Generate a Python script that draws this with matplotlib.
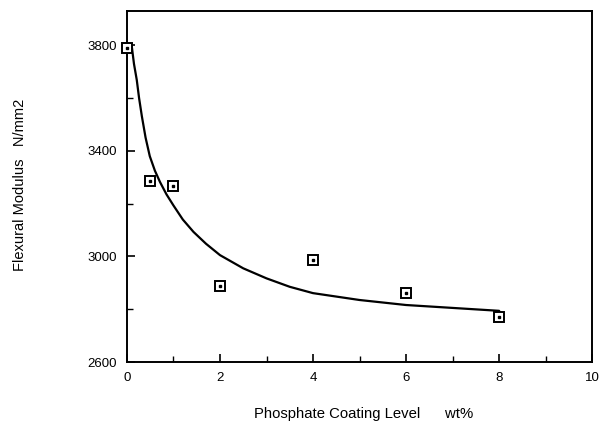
import numpy as np
import matplotlib
matplotlib.use("Agg")
import matplotlib.pyplot as plt

plt.rcParams['font.family'] = ['Liberation Sans', 'DejaVu Sans']

# measured points
coating = [0.0, 0.5, 1.0, 2.0, 4.0, 6.0, 8.0]
modulus = [3790, 3285, 3268, 2888, 2988, 2862, 2772]

# fitted curve
curve_x = [0.10, 0.15, 0.21, 0.26, 0.32, 0.40, 0.49, 0.60, 0.71, 0.85, 1.0, 1.2, 1.43, 1.7,
           2.0, 2.5, 3.0, 3.5, 4.0, 5.0, 6.0, 7.0, 8.0, 8.05]
curve_y = [3800, 3730, 3669, 3600, 3531, 3450, 3380, 3325, 3282, 3235, 3193, 3140, 3093, 3048,
           3005, 2955, 2917, 2885, 2861, 2835, 2816, 2805, 2794, 2780]

fig = plt.figure(figsize=(6.03, 4.32), dpi=100)
ax = fig.add_axes([0.2106, 0.162, 0.7712, 0.8125])

ax.plot(curve_x, curve_y, color='black', lw=1.6, zorder=2)
ax.plot(coating, modulus, linestyle='none', marker='s', ms=7, mfc='white',
        mec='black', mew=1.4, zorder=3, clip_on=False)
ax.plot(coating, modulus, linestyle='none', marker='s', ms=1.5, mfc='black',
        mec='black', zorder=4, clip_on=False)

ax.set_xlim(0, 10)
ax.set_ylim(2600, 3930)
ax.set_xticks([0, 2, 4, 6, 8, 10])
ax.set_xticks([1, 3, 5, 7, 9], minor=True)
ax.set_yticks([2600, 3000, 3400, 3800])
ax.set_yticks([2800, 3200, 3600], minor=True)
ax.tick_params(which='both', direction='in', top=False, right=False, labelsize=9.5)
ax.tick_params(which='major', length=6, width=1.2, pad=7)
ax.tick_params(which='minor', length=4, width=1.0)
for s in ax.spines.values():
    s.set_linewidth(1.4)

ax.set_xlabel("Phosphate Coating Level      wt%", fontsize=10.7)
ax.xaxis.set_label_coords(0.509, -0.128)
ax.set_ylabel("Flexural Modulus   N/mm2", fontsize=10.5)
ax.yaxis.set_label_coords(-0.215, 0.505)

fig.savefig("out.png", dpi=100)
